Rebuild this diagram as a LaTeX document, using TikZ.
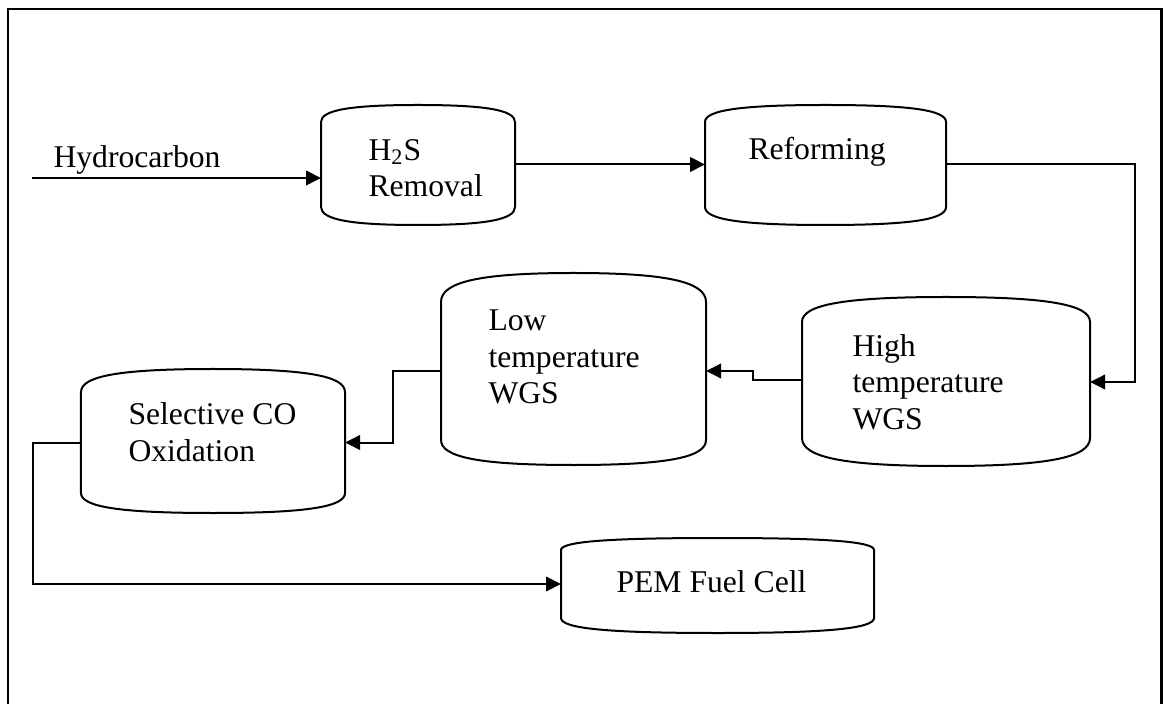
\documentclass[tikz,border=0pt]{standalone}
\usepackage{fontspec}
\setmainfont{Liberation Serif}
\usetikzlibrary{calc,arrows.meta,positioning}

\begin{document}
\begin{tikzpicture}[x=0.4pt,y=-0.4pt,
  unitbox/.style={rectangle,inner sep=0pt,outer sep=0pt},
  unitline/.style={line width=0.8pt},
  unittext/.style={align=left,inner sep=0pt,anchor=west,
    font=\fontsize{12.66}{14.6}\selectfont},
  flow/.style={line width=0.8pt,-{Triangle[length=6pt,width=5.8pt]}},
 ]
\useasboundingbox (0,0) rectangle (1163,704);

% frame
\draw[line width=0.9pt] (8,720) -- (8,9) -- (1161.5,9) -- (1161.5,720);

% units
\node[unitbox, minimum width=77.6pt, minimum height=34pt] (h2s) at (418,164.5) {};
\node[unitbox, minimum width=96.4pt, minimum height=34pt] (ref) at (825.5,164.5) {};
\node[unitbox, minimum width=115.2pt, minimum height=46.4pt] (hi) at (946,380) {};
\node[unitbox, minimum width=106pt, minimum height=55.2pt] (lo) at (573.5,371) {};
\node[unitbox, minimum width=105.6pt, minimum height=40.4pt] (sel) at (213,442.5) {};
\node[unitbox, minimum width=125.2pt, minimum height=27.2pt] (pem) at (717.5,584) {};

\foreach \u/\a/\b in {h2s/17/18, ref/17/18, hi/25/28, lo/29/25, sel/23/20, pem/12/15}
  \draw[unitline] let \p1=(\u.north west), \p2=(\u.south east) in
    (\x1,\y1) .. controls (\x1,{\y1+0.28pt*\a}) and ({\x1+0.15*(\x2-\x1)},{\y1+0.4pt*\a}) ..
    ({0.5*(\x1+\x2)},{\y1+0.4pt*\a}) .. controls ({\x2-0.15*(\x2-\x1)},{\y1+0.4pt*\a}) and (\x2,{\y1+0.28pt*\a}) ..
    (\x2,\y1) -- (\x2,\y2) .. controls (\x2,{\y2-0.28pt*\b}) and ({\x2-0.15*(\x2-\x1)},{\y2-0.4pt*\b}) ..
    ({0.5*(\x1+\x2)},{\y2-0.4pt*\b}) .. controls ({\x1+0.15*(\x2-\x1)},{\y2-0.4pt*\b}) and (\x1,{\y2-0.28pt*\b}) ..
    (\x1,\y2) -- cycle;

% texts
\node[unittext] (h2s-t) at (368,168) {H\textsubscript{2}S\\Removal};
\node[unittext] (ref-t) at (748,152) {Reforming};
\node[unittext] (hi-t) at (852,382) {High\\temperature\\WGS};
\node[unittext] (lo-t) at (488,357) {Low\\temperature\\WGS};
\node[unittext] (sel-t) at (128,432) {Selective CO\\Oxidation};
\node[unittext] (pem-t) at (616,582) {PEM Fuel Cell};
\node[unittext] (feed-t) at (53,160) {Hydrocarbon};

% connectors
\coordinate (feed) at (32,178);
\coordinate (c1) at (1135,382);
\draw[flow] (feed) -- (feed -| h2s.west);
\draw[flow] (h2s.east) -- (ref.west);
\draw[flow] (ref.east) -| (c1) -- (c1 -| hi.east);
\draw[flow] (hi.west) -- ++(-49,0) |- (lo.east);
\draw[flow] (lo.west) -- ++(-48,0) |- (sel.east);
\draw[flow] (sel.west) -- ++(-48,0) |- (pem.west);

\end{tikzpicture}
\end{document}
